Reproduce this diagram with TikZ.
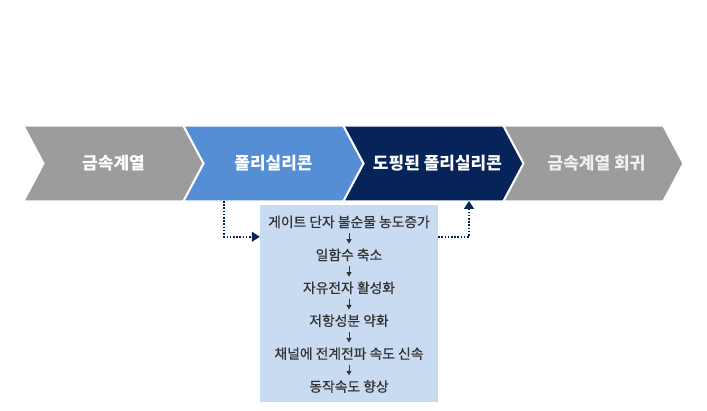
\documentclass[tikz,border=0pt]{standalone}
\usepackage{fontspec}
\usepackage{tikz}
\usetikzlibrary{positioning,arrows.meta}
\newfontfamily\kr{Noto Sans CJK KR}
\newfontfamily\krm[FakeBold=0.6]{Noto Sans CJK KR}
\definecolor{StepGray}{HTML}{9C9C9C}
\definecolor{StepBlue}{HTML}{558ED5}
\definecolor{StepNavy}{HTML}{062459}
\definecolor{BoxBg}{HTML}{C9DBF0}
\definecolor{TextDark}{HTML}{333333}

\begin{document}
\begin{tikzpicture}[
    x=1pt, y=1pt,
    node distance=1pt,
    chev/.style={rectangle, inner sep=0pt, outer sep=0pt, minimum width=159pt, minimum height=75pt},
    chevtext/.style={font=\kr\bfseries\fontsize{17}{18}\selectfont, text=white, inner sep=0pt},
    effect/.style={rectangle, fill=BoxBg, inner sep=0pt, minimum width=178pt, minimum height=197pt},
    line/.style={font=\krm\fontsize{13.8}{14}\selectfont, text=TextDark, inner sep=0pt, minimum height=22pt},
    small/.style={-{Triangle[length=4.5pt,width=5pt]}, line width=0.8pt, TextDark},
    link/.style={-{Triangle[length=8pt,width=10pt]}, line width=1.6pt, StepNavy, dash pattern=on 1.6pt off 1.6pt}
  ]
    \useasboundingbox (0,0) rectangle (707,411);

    % Process chevrons
    \node (c1) [chev] at (103.5,247.5) {};
    \node (c2) [chev, right=of c1] {};
    \node (c3) [chev, right=of c2] {};
    \node (c4) [chev, right=of c3] {};
    \foreach \c/\col in {c1/StepGray, c2/StepBlue, c3/StepNavy, c4/StepGray}
      \filldraw[fill=\col, draw=white, line width=1.2pt]
        (\c.north west) -- (\c.north east) -- ([xshift=20pt]\c.east) -- (\c.south east)
        -- (\c.south west) -- ([xshift=20pt]\c.west) -- cycle;

    \node (l1) [chevtext] at ([xshift=10pt]c1.center) {금속계열};
    \node (l2) [chevtext] at ([xshift=10pt]c2.center) {폴리실리콘};
    \node (l3) [chevtext] at ([xshift=14pt]c3.center) {도핑된 폴리실리콘};
    \node (l4) [chevtext, text=white!94!black] at ([xshift=13pt]c4.center) {금속계열 회귀};

    % Effect box
    \node (box) [effect] at (349,107.5) {};
    \node (t1) [line] at (349,189) {게이트 단자 불순물 농도증가};
    \node (t2) [line, below=10.5pt of t1] {일함수 축소};
    \node (t3) [line, below=10.5pt of t2] {자유전자 활성화};
    \node (t4) [line, below=10.5pt of t3] {저항성분 약화};
    \node (t5) [line, below=10.5pt of t4] {채널에 전계전파 속도 신속};
    \node (t6) [line, below=10.5pt of t5] {동작속도 향상};
    \foreach \a/\b in {t1/t2, t2/t3, t3/t4, t4/t5, t5/t6}
      \draw [small] (\a) -- (\b);

    % Connections
    \draw [link] ([xshift=-39.5pt]c2.south) |- ([yshift=-32pt]box.north west);
    \draw [link] ([yshift=-32pt]box.north east) -| ([xshift=45.5pt]c3.south);
  \end{tikzpicture}
\end{document}
